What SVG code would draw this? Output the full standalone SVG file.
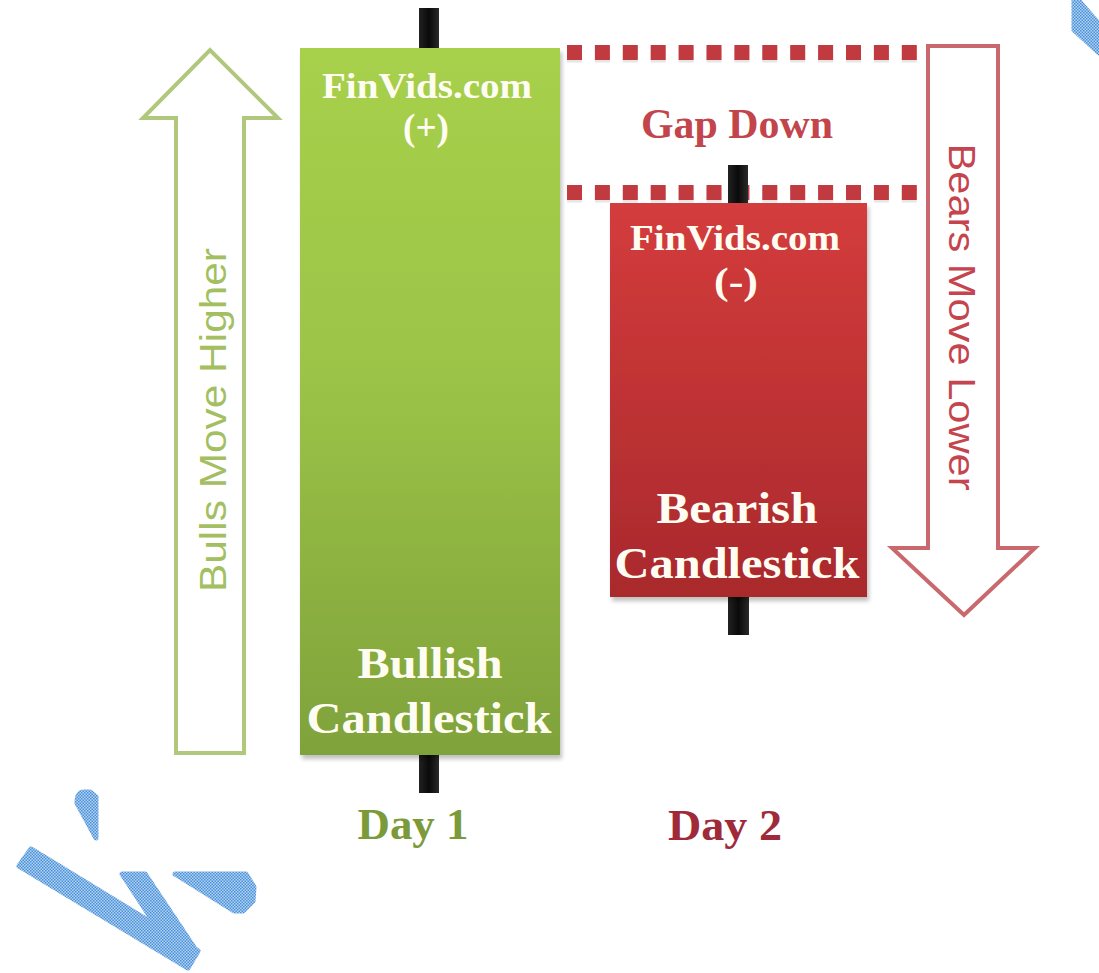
<svg xmlns="http://www.w3.org/2000/svg" width="1099" height="973" viewBox="0 0 1099 973">
<defs>
<linearGradient id="gGreen" x1="0" y1="0" x2="0" y2="1">
<stop offset="0" stop-color="#a7d04c"/><stop offset="0.45" stop-color="#9cc447"/><stop offset="1" stop-color="#7fa23b"/>
</linearGradient>
<linearGradient id="gRed" x1="0" y1="0" x2="0" y2="1">
<stop offset="0" stop-color="#d43c3c"/><stop offset="1" stop-color="#a9292c"/>
</linearGradient>
<linearGradient id="gWick" x1="0" y1="0" x2="1" y2="0">
<stop offset="0" stop-color="#222"/><stop offset="0.5" stop-color="#0a0a0a"/><stop offset="1" stop-color="#2a2a2a"/>
</linearGradient>
<pattern id="hatch" width="3" height="3" patternUnits="userSpaceOnUse">
<rect width="3" height="3" fill="#b2d3f2"/>
<rect width="1.5" height="1.5" fill="#4a90d8"/>
<rect x="1.5" y="1.5" width="1.5" height="1.5" fill="#4a90d8"/>
</pattern>
<filter id="shadow" x="-10%" y="-10%" width="120%" height="120%">
<feGaussianBlur in="SourceAlpha" stdDeviation="2"/>
<feOffset dx="2" dy="4"/>
<feComponentTransfer><feFuncA type="linear" slope="0.25"/></feComponentTransfer>
<feMerge><feMergeNode/><feMergeNode in="SourceGraphic"/></feMerge>
</filter>
</defs>
<style>
.lbl{font-family:"Liberation Serif","Times New Roman",serif;font-weight:bold;text-anchor:middle;fill:#fffdf2}
.day{font-family:"Liberation Serif","Times New Roman",serif;font-weight:bold;text-anchor:middle}
.side{font-family:"Liberation Sans",Arial,sans-serif;text-anchor:middle;font-size:36px}
.wick{fill:url(#gWick)}
.dots{stroke:#c13a40;stroke-width:15;stroke-dasharray:15 12.9;fill:none}
.dotsh{stroke:#e6e6e6;stroke-width:15;stroke-dasharray:15 12.9;fill:none}
.wm{fill:url(#hatch);stroke:url(#hatch);stroke-width:5;stroke-linejoin:round}
</style>
<rect width="1099" height="973" fill="#ffffff"/>

<g id="bulls-arrow">
<path d="M176,753 L176,118 L143,118 L210,50 L278,118 L244,118 L244,753 Z" fill="#ffffff" stroke="#b1c87c" stroke-width="4"/>
<text class="side" transform="translate(226,420) rotate(-90)" fill="#a3bf62" textLength="344" lengthAdjust="spacingAndGlyphs">Bulls Move Higher</text>
</g>

<g id="bears-arrow">
<path d="M928,46 L998,46 L998,548 L1035,548 L964,615 L892,548 L928,548 Z" fill="#ffffff" stroke="#c9686d" stroke-width="4"/>
<text class="side" transform="translate(949,317) rotate(90)" fill="#c4454d" textLength="347" lengthAdjust="spacingAndGlyphs">Bears Move Lower</text>
</g>

<g id="connectors">
<line class="dotsh" x1="567" y1="55" x2="917" y2="55"/>
<line class="dots" x1="567" y1="52.5" x2="917" y2="52.5"/>
<line class="dotsh" x1="567" y1="195" x2="917" y2="195"/>
<line class="dots" x1="567" y1="192.5" x2="917" y2="192.5"/>
</g>

<g id="gap-label">
<text class="day" x="737" y="138" font-size="42" fill="#c2454c" textLength="192" lengthAdjust="spacingAndGlyphs">Gap Down</text>
</g>

<g id="bullish-candle">
<rect class="wick" x="419" y="8" width="20" height="42"/>
<rect class="wick" x="419" y="753" width="20" height="40"/>
<rect x="300" y="48" width="260" height="707" fill="url(#gGreen)" filter="url(#shadow)"/>
<text class="lbl" x="427" y="98" font-size="35" textLength="210" lengthAdjust="spacingAndGlyphs">FinVids.com</text>
<text class="lbl" x="426" y="140" font-size="37" textLength="46" lengthAdjust="spacingAndGlyphs">(+)</text>
<text class="lbl" x="430" y="678" font-size="45" textLength="145" lengthAdjust="spacingAndGlyphs">Bullish</text>
<text class="lbl" x="429" y="733" font-size="45" textLength="245" lengthAdjust="spacingAndGlyphs">Candlestick</text>
</g>

<g id="bearish-candle">
<rect class="wick" x="728" y="165" width="20" height="40"/>
<rect class="wick" x="728" y="595" width="21" height="40"/>
<rect x="610" y="203" width="257" height="394" fill="url(#gRed)" filter="url(#shadow)"/>
<text class="lbl" x="735" y="250" font-size="35" textLength="210" lengthAdjust="spacingAndGlyphs">FinVids.com</text>
<text class="lbl" x="736" y="294" font-size="37" textLength="44" lengthAdjust="spacingAndGlyphs">(-)</text>
<text class="lbl" x="737" y="523" font-size="45" textLength="161" lengthAdjust="spacingAndGlyphs">Bearish</text>
<text class="lbl" x="737" y="578" font-size="45" textLength="245" lengthAdjust="spacingAndGlyphs">Candlestick</text>
</g>

<g id="day1">
<text class="day" x="413" y="839" font-size="45" fill="#7b9a3a" textLength="111" lengthAdjust="spacingAndGlyphs">Day 1</text>
</g>
<g id="day2">
<text class="day" x="725" y="840" font-size="45" fill="#9e2a3a" textLength="114" lengthAdjust="spacingAndGlyphs">Day 2</text>
</g>

<g id="watermark">
<path class="wm" d="M77,803 Q77,792 84,792 L90,792 L96,797 L96,838 Z"/>
<path class="wm" d="M31,849 L198,951 L188,968 L19,866 Z"/>
<path class="wm" d="M122,874 L145,874 L197,952 L173,952 Z"/>
<path class="wm" d="M175,874 L246,874 L254,887 L253,901 L243,911 L234,911 Z"/>
<path class="wm" d="M1074,0 L1078,0 L1099,24 L1099,53 L1074,30 Z"/>
</g>
</svg>
